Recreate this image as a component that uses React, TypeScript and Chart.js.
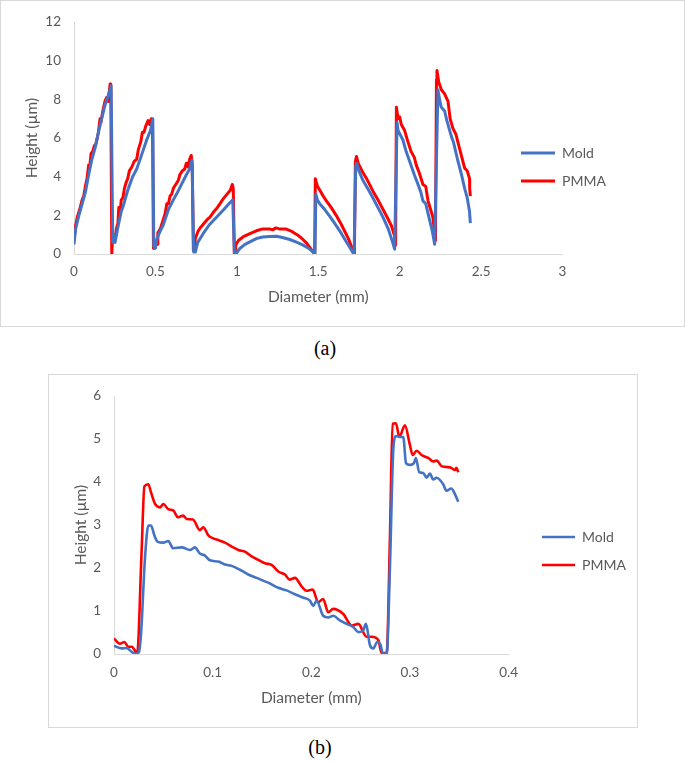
import React, { useEffect, useRef } from 'react';
import { Chart, registerables } from 'chart.js';

Chart.register(...registerables);

const FONT = "Lato, 'Open Sans', 'Liberation Sans', sans-serif";
const GRAY = '#595959';
const AXIS = '#d9d9d9';
const BLUE = '#4472C4';
const RED = '#FF0000';

const seriesNames = ['Mold', 'PMMA'];
const xTitle = 'Diameter (mm)';
const yTitle = 'Height (µm)';

// ---------- (a) full profile ----------
const aXTicks = { min: 0, max: 3, step: 0.5 };
const aYTicks = { min: 0, max: 12, step: 2 };

const aMoldX = [
  0, 0.01, 0.03, 0.05, 0.07, 0.09, 0.11, 0.13, 0.15, 0.17, 0.19, 0.21, 0.228, 0.233, 0.238,
  0.245, 0.252, 0.27, 0.29, 0.303, 0.33, 0.36, 0.385, 0.41, 0.446, 0.47, 0.484, 0.49,
  0.5, 0.51, 0.53, 0.548, 0.58, 0.61, 0.63, 0.66, 0.69, 0.71, 0.725, 0.735,
  0.745, 0.76, 0.793, 0.83, 0.875, 0.92, 0.957, 0.975, 0.985,
  0.994, 1.02, 1.05, 1.08, 1.12, 1.16, 1.2, 1.243, 1.28, 1.325, 1.37, 1.407, 1.44, 1.465, 1.48,
  1.485, 1.495, 1.509, 1.54, 1.571, 1.6, 1.632, 1.66, 1.693, 1.713, 1.72,
  1.73, 1.735, 1.75, 1.775, 1.81, 1.836, 1.87, 1.898, 1.93, 1.959, 1.969,
  1.984, 1.99, 2.02, 2.04, 2.061, 2.09, 2.113, 2.13, 2.143, 2.16, 2.184, 2.2, 2.215,
  2.235, 2.245, 2.255, 2.276, 2.29, 2.317, 2.33, 2.358, 2.38, 2.399, 2.415, 2.429, 2.434,
];
const aMoldY = [
  0.5, 1.3, 2.0, 2.6, 3.2, 4.1, 4.9, 5.5, 6.3, 7.0, 7.7, 8.2, 8.7, 8.7, 0.6,
  1.0, 0.6, 1.4, 2.2, 2.5, 3.3, 4.0, 4.4, 5.0, 5.9, 6.4, 7.0, 0.4,
  0.3, 0.8, 1.2, 1.5, 2.3, 2.8, 3.1, 3.6, 4.1, 4.4, 4.85, 0.1,
  0.1, 0.6, 1.05, 1.5, 1.9, 2.3, 2.65, 2.8, 0.0,
  0.0, 0.3, 0.5, 0.63, 0.8, 0.88, 0.9, 0.92, 0.85, 0.75, 0.6, 0.46, 0.3, 0.12, 0.0,
  3.1, 2.8, 2.6, 2.3, 1.95, 1.6, 1.2, 0.8, 0.35, 0.07, 0.0,
  4.5, 4.7, 4.3, 3.8, 3.3, 2.9, 2.35, 1.9, 1.3, 0.55, 0.25,
  6.8, 6.4, 5.9, 5.3, 4.8, 4.1, 3.6, 3.2, 2.75, 2.6, 1.75, 1.2, 0.5,
  8.5, 8.0, 7.6, 7.4, 6.9, 6.1, 5.8, 4.8, 4.1, 3.4, 2.9, 2.2, 1.6,
];

const aPmmaX = [
  0, 0.006, 0.02, 0.035, 0.05, 0.06, 0.07, 0.08, 0.09, 0.095, 0.105, 0.115, 0.125, 0.135, 0.15, 0.16, 0.165, 0.175, 0.19, 0.2, 0.21, 0.222, 0.226, 0.232,
  0.236, 0.245, 0.255, 0.26, 0.27, 0.275, 0.285, 0.29, 0.3, 0.31, 0.32, 0.33, 0.34, 0.355, 0.37, 0.385, 0.395, 0.41, 0.42, 0.43, 0.44, 0.455, 0.465, 0.475, 0.482, 0.488,
  0.495, 0.5, 0.51, 0.515, 0.53, 0.545, 0.56, 0.57, 0.58, 0.59, 0.6, 0.61, 0.625, 0.64, 0.65, 0.665, 0.68, 0.69, 0.7, 0.71, 0.72, 0.726, 0.733,
  0.74, 0.745, 0.763, 0.78, 0.8, 0.82, 0.834, 0.86, 0.88, 0.9, 0.916, 0.94, 0.96, 0.972, 0.978, 0.985,
  0.99, 0.995, 1.01, 1.04, 1.08, 1.12, 1.16, 1.2, 1.22, 1.24, 1.26, 1.3, 1.33, 1.37, 1.4, 1.43, 1.46, 1.478,
  1.482, 1.495, 1.51, 1.53, 1.55, 1.58, 1.61, 1.64, 1.67, 1.69, 1.71, 1.722,
  1.728, 1.735, 1.745, 1.775, 1.8, 1.836, 1.87, 1.898, 1.92, 1.95, 1.97, 1.975,
  1.98, 1.99, 2.0, 2.01, 2.03, 2.051, 2.07, 2.09, 2.102, 2.12, 2.143, 2.16, 2.174, 2.19, 2.204, 2.215, 2.22,
  2.226, 2.229, 2.24, 2.256, 2.275, 2.297, 2.31, 2.327, 2.345, 2.368, 2.385, 2.399, 2.415, 2.429, 2.43, 2.434,
];
const aPmmaY = [
  1.1, 1.3, 1.9, 2.3, 2.8, 3.0, 3.5, 3.9, 4.6, 4.4, 5.2, 5.3, 5.6, 5.7, 6.3, 7.0, 6.8, 7.3, 7.9, 8.1, 7.9, 8.8, 8.6, 0.0,
  0.7, 1.0, 0.9, 1.3, 1.6, 2.4, 2.3, 2.8, 2.9, 3.4, 3.7, 3.9, 4.3, 4.5, 4.8, 4.9, 5.4, 5.8, 6.3, 6.3, 6.6, 6.9, 6.7, 7.0, 6.9, 0.3,
  0.3, 0.5, 0.5, 1.1, 1.3, 1.7, 2.1, 2.6, 2.6, 3.0, 3.1, 3.4, 3.6, 3.8, 4.1, 4.3, 4.4, 4.7, 4.5, 4.9, 5.1, 4.6, 0.2,
  0.4, 0.8, 1.2, 1.4, 1.6, 1.8, 1.9, 2.2, 2.4, 2.65, 2.85, 3.1, 3.3, 3.6, 3.4, 0.0,
  0.1, 0.5, 0.7, 0.9, 1.05, 1.2, 1.3, 1.3, 1.25, 1.35, 1.3, 1.3, 1.2, 1.0, 0.8, 0.55, 0.2, 0.0,
  3.9, 3.5, 3.3, 3.0, 2.75, 2.4, 2.0, 1.55, 1.05, 0.7, 0.25, 0.0,
  4.8, 5.05, 4.7, 4.2, 3.85, 3.25, 2.75, 2.3, 1.95, 1.45, 0.9, 0.45,
  7.6, 7.0, 7.1, 6.7, 6.4, 5.8, 5.3, 5.0, 4.6, 4.2, 3.6, 3.5, 2.75, 2.3, 1.9, 1.05, 0.7,
  9.0, 9.5, 8.9, 8.5, 8.3, 7.9, 7.0, 6.5, 6.2, 5.45, 4.9, 4.45, 4.3, 3.9, 3.4, 3.0,
];

// ---------- (b) detail ----------
const bXTicks = { min: 0, max: 0.4, step: 0.1 };
const bYTicks = { min: 0, max: 6, step: 1 };

const bMoldX = [
  0, 0.0078, 0.0128, 0.018, 0.022, 0.0253, 0.0274, 0.0314, 0.0348, 0.0375, 0.0409, 0.0443, 0.05, 0.055, 0.06, 0.0686, 0.077, 0.082, 0.087, 0.0922, 0.0973,
  0.1057, 0.1125, 0.1193, 0.1277, 0.136, 0.1446, 0.153, 0.1564, 0.1665, 0.175, 0.1834, 0.192, 0.1986, 0.202, 0.2054, 0.212, 0.2172, 0.2222, 0.229, 0.2358,
  0.2425, 0.2476, 0.2527, 0.2554, 0.2594, 0.2628, 0.2669, 0.2703, 0.2723, 0.2764, 0.2797, 0.2831, 0.2858, 0.2898, 0.2932, 0.296, 0.3, 0.304, 0.306,
  0.3094, 0.3135, 0.3169, 0.3202, 0.3236, 0.327, 0.3337, 0.337, 0.342, 0.3456, 0.349,
];
const bMoldY = [
  0.19, 0.13, 0.14, 0.05, 0.0, 0.05, 0.47, 2.23, 2.99, 2.99, 2.76, 2.61, 2.59, 2.63, 2.46, 2.48, 2.42, 2.48, 2.34, 2.29, 2.18,
  2.15, 2.08, 2.05, 1.96, 1.85, 1.77, 1.69, 1.66, 1.54, 1.48, 1.39, 1.31, 1.24, 1.12, 1.24, 0.89, 0.85, 0.89, 0.78, 0.7,
  0.63, 0.51, 0.55, 0.7, 0.21, 0.13, 0.28, 0.21, 0.02, 0.0, 2.0, 4.75, 5.07, 5.05, 5.05, 4.44, 4.4, 4.44, 4.56,
  4.23, 4.21, 4.1, 4.2, 4.06, 4.1, 3.95, 3.8, 3.85, 3.72, 3.54,
];

const bPmmaX = [
  0, 0.006, 0.0105, 0.0145, 0.018, 0.0235, 0.028, 0.0308, 0.0348, 0.0375, 0.0416, 0.0466, 0.05, 0.055, 0.06, 0.065, 0.07, 0.0737, 0.08, 0.087, 0.0905, 0.0956,
  0.1006, 0.1057, 0.1125, 0.1193, 0.126, 0.1328, 0.1395, 0.1463, 0.153, 0.16, 0.1665, 0.1733, 0.178, 0.1834, 0.19, 0.195, 0.2014, 0.207, 0.212, 0.2172,
  0.2222, 0.2324, 0.241, 0.2476, 0.256, 0.2612, 0.268, 0.2713, 0.2764, 0.2797, 0.2824, 0.2858, 0.2892, 0.2949, 0.3, 0.3027, 0.3068, 0.3118, 0.3186,
  0.3236, 0.327, 0.332, 0.337, 0.342, 0.3456, 0.347, 0.349,
];
const bPmmaY = [
  0.36, 0.24, 0.28, 0.17, 0.17, 0.02, 2.4, 3.9, 3.95, 3.76, 3.49, 3.41, 3.49, 3.37, 3.34, 3.18, 3.22, 3.14, 3.13, 2.88, 2.95, 2.76,
  2.69, 2.65, 2.59, 2.5, 2.42, 2.38, 2.27, 2.19, 2.11, 2.07, 1.92, 1.85, 1.73, 1.77, 1.58, 1.47, 1.5, 1.2, 1.28, 0.97,
  1.05, 0.93, 0.66, 0.7, 0.4, 0.4, 0.32, 0.02, 0.02, 2.69, 5.36, 5.37, 5.05, 5.32, 4.86, 4.63, 4.73, 4.63, 4.56,
  4.48, 4.5, 4.37, 4.35, 4.33, 4.28, 4.33, 4.23,
];

const legendPlacer = {
  id: 'legendPlacer',
  afterLayout(chart: any, _args: any, opts: any) {
    const lg = chart.legend;
    if (!lg || opts == null || opts.x == null) return;
    const w = lg.width;
    const h = lg.height;
    lg.left = opts.x;
    lg.right = opts.x + w;
    lg.top = opts.y;
    lg.bottom = opts.y + h;
  },
};

function pts(xs: number[], ys: number[]) {
  return xs.map((x, i) => ({ x, y: ys[i] }));
}

const plainNumber = (v: any) => String(Number(Number(v).toFixed(3)));

function makeConfig(p: any): any {
  const ds = (label: string, color: string, xs: number[], ys: number[]) => ({
    label,
    data: pts(xs, ys),
    borderColor: color,
    backgroundColor: color,
    pointBorderColor: color,
    pointBackgroundColor: color,
    pointBorderWidth: p.lw,
    borderWidth: p.lw,
    pointRadius: 0,
    pointHoverRadius: 0,
    fill: false,
    tension: p.smooth ? 0.4 : 0,
    cubicInterpolationMode: p.smooth ? 'monotone' : 'default',
    borderJoinStyle: 'round',
  });
  return {
    type: 'line',
    data: {
      datasets: [
        ds(seriesNames[0], BLUE, p.moldX, p.moldY),
        ds(seriesNames[1], RED, p.pmmaX, p.pmmaY),
      ],
    },
    options: {
      responsive: false,
      animation: false,
      events: [],
      layout: { padding: { left: 0, top: p.padTop, right: p.padRight, bottom: 0 } },
      scales: {
        x: {
          type: 'linear',
          min: p.xt.min,
          max: p.xt.max,
          ticks: {
            stepSize: p.xt.step,
            color: GRAY,
            font: { family: FONT, size: 13.5 },
            padding: p.xTickPad,
            maxRotation: 0,
            autoSkip: false,
            callback: plainNumber,
          },
          grid: { display: false, drawTicks: false },
          border: { display: true, color: AXIS, width: 1 },
          title: {
            display: true,
            text: xTitle,
            color: GRAY,
            font: { family: FONT, size: 15.5 },
            padding: { top: 0, bottom: p.xTitlePad },
          },
          afterFit: (s: any) => {
            s.height = p.xHeight;
          },
        },
        y: {
          type: 'linear',
          min: p.yt.min,
          max: p.yt.max,
          ticks: {
            stepSize: p.yt.step,
            color: GRAY,
            font: { family: FONT, size: 13.5 },
            padding: p.yTickPad,
            callback: plainNumber,
          },
          grid: { display: false, drawTicks: false },
          border: { display: true, color: AXIS, width: 1 },
          title: {
            display: true,
            text: yTitle,
            color: GRAY,
            font: { family: FONT, size: 15.5 },
            padding: { top: p.yTitlePad, bottom: 0 },
          },
          afterFit: (s: any) => {
            s.width = p.yWidth;
          },
        },
      },
      plugins: {
        legend: {
          position: 'chartArea',
          align: 'start',
          labels: {
            usePointStyle: true,
            pointStyle: 'line',
            pointStyleWidth: p.legendLine,
            padding: p.legendPad,
            color: GRAY,
            font: { family: FONT, size: 14 },
          },
        },
        tooltip: { enabled: false },
        legendPlacer: { x: p.legendX, y: p.legendY },
      },
    },
    plugins: [legendPlacer],
  };
}

function ChartBox(props: { cfg: any; w: number; h: number }) {
  const ref = useRef<HTMLCanvasElement | null>(null);
  useEffect(() => {
    if (!ref.current) return;
    const chart = new Chart(ref.current, props.cfg);
    return () => chart.destroy();
  }, []);
  return <canvas ref={ref} width={props.w} height={props.h} style={{ display: 'block', width: props.w, height: props.h }} />;
}

const cfgA = makeConfig({
  moldX: aMoldX, moldY: aMoldY, pmmaX: aPmmaX, pmmaY: aPmmaY,
  xt: aXTicks, yt: aYTicks, lw: 3, smooth: false,
  padTop: 17, padRight: 121.5, xHeight: 72, yWidth: 73,
  xTickPad: 10, xTitlePad: 20, yTickPad: 13, yTitlePad: 22,
  legendLine: 34, legendPad: 14, legendX: 506, legendY: 131,
});

const cfgB = makeConfig({
  moldX: bMoldX, moldY: bMoldY, pmmaX: bPmmaX, pmmaY: bPmmaY,
  xt: bXTicks, yt: bYTicks, lw: 2.6, smooth: true,
  padTop: 16.5, padRight: 128.4, xHeight: 73, yWidth: 65,
  xTickPad: 11, xTitlePad: 20, yTickPad: 13, yTitlePad: 22.5,
  legendLine: 33, legendPad: 14, legendX: 479, legendY: 141,
});

const caption: React.CSSProperties = {
  position: 'absolute',
  width: 60,
  textAlign: 'center',
  fontFamily: "'Liberation Serif', 'Times New Roman', serif",
  fontSize: 20,
  lineHeight: '24px',
  color: '#000',
};

export default function App() {
  return (
    <div style={{ position: 'absolute', left: 0, top: 0, width: 685, height: 761, background: '#fff', overflow: 'hidden' }}>
      <div style={{ position: 'absolute', left: 0, top: 0, width: 685, height: 327, boxSizing: 'border-box', border: '1px solid #d9d9d9' }}>
        <ChartBox cfg={cfgA} w={683} h={325} />
      </div>
      <div style={{ ...caption, left: 295, top: 336 }}>(a)</div>
      <div style={{ position: 'absolute', left: 48, top: 374, width: 590, height: 354, boxSizing: 'border-box', border: '1px solid #d9d9d9' }}>
        <ChartBox cfg={cfgB} w={588} h={352} />
      </div>
      <div style={{ ...caption, left: 290, top: 735 }}>(b)</div>
    </div>
  );
}
